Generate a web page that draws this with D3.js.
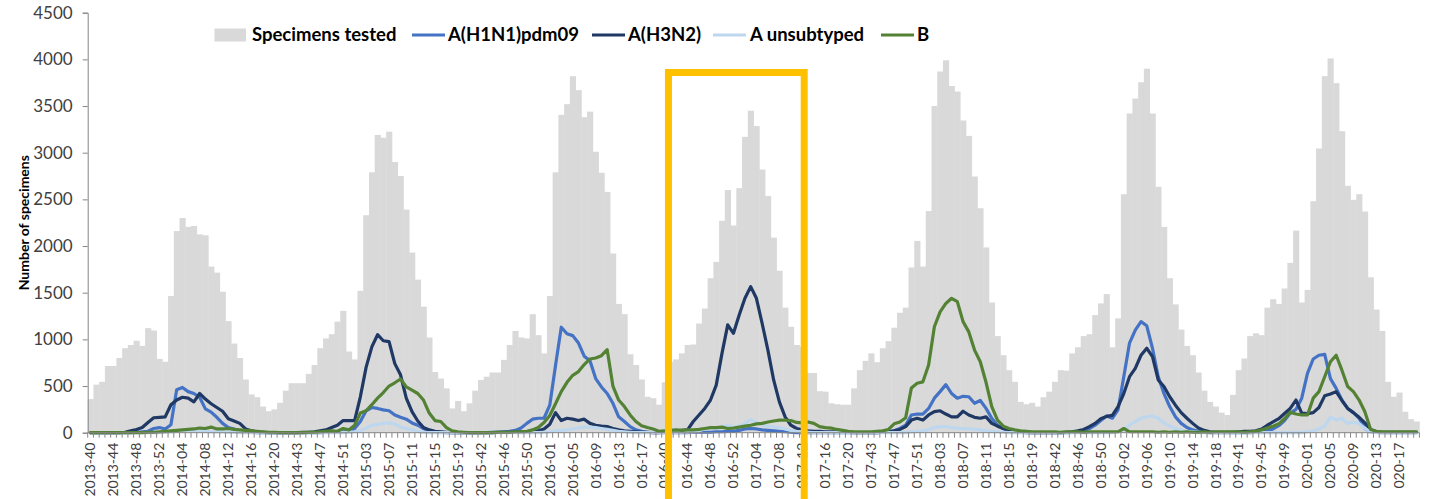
<!DOCTYPE html>
<html><head><meta charset="utf-8">
<script src="https://cdn.jsdelivr.net/npm/d3@7"></script>
<style>
body{margin:0;background:#fff}
svg{display:block}
text{font-family:Lato,"Open Sans","Liberation Sans",sans-serif}
</style>
</head><body>
<svg id="chart" width="1433" height="499"></svg>
<script>
// ---- categories: influenza seasons, week 40 .. week 20 of next year ----
const seasonStarts = [2013, 2014, 2015, 2016, 2017, 2018, 2019];
const lastWeekOfStartYear = [52, 52, 53, 52, 52, 52, 52];
const categories = [];
seasonStarts.forEach((yr, k) => {
  for (let w = 40; w <= lastWeekOfStartYear[k]; w++) categories.push(yr + "-" + String(w).padStart(2, "0"));
  for (let w = 1; w <= 20; w++) categories.push((yr + 1) + "-" + String(w).padStart(2, "0"));
});

// tick labels as printed (every 4th week)
const tickLabels = ["2013-40","2013-44","2013-48","2013-52","2014-04","2014-08","2014-12","2014-16","2014-20",
 "2014-43","2014-47","2014-51","2015-03","2015-07","2015-11","2015-15","2015-19",
 "2015-42","2015-46","2015-50","2016-01","2016-05","016-09","016-13","016-17",
 "016-40","016-44","016-48","016-52","017-04","017-08","017-12","017-16","017-20",
 "017-43","017-47","017-51","018-03","018-07","018-11","018-15","018-19",
 "018-42","018-46","018-50","019-02","019-06","019-10","019-14","019-18",
 "019-41","019-45","019-49","020-01","020-05","020-09","020-13","020-17"];

const yTicks = [0,500,1000,1500,2000,2500,3000,3500,4000,4500];

// ---- series ----
const specimens = [
 360,515,545,715,715,800,905,940,985,930,1120,1095,790,760,1465,2160,2300,2205,2215,2125,2115,1780,1715,1510,1195,955,800,570,410,380,280,230,250,
 320,450,530,530,530,630,725,905,1010,1055,1190,1305,870,785,1520,2330,2790,3190,3160,3225,2900,2750,2390,1930,1640,1350,1020,650,580,475,260,340,230,
 315,450,565,600,645,645,780,940,1090,1020,1010,1270,1045,850,1465,2790,3405,3520,3820,3670,3380,3440,3010,2785,2580,1920,1380,1270,840,725,570,385,370,300,
 540,760,785,850,940,945,1170,1330,1655,1830,2270,2600,2220,2620,3170,3450,3285,2820,2535,2090,1735,1340,1135,940,920,640,640,445,440,315,305,300,300,
 475,670,770,850,755,905,980,1125,1285,1340,1770,2055,1780,2375,3500,3870,3990,3715,3655,3345,3180,2745,2405,1985,1395,1035,830,670,545,330,305,320,280,
 380,440,545,670,665,850,915,1035,1055,1260,1385,1485,915,1225,2555,3420,3580,3755,3900,3420,2635,2205,1655,1375,1105,930,830,645,450,330,280,215,190,
 405,670,795,1035,1065,1045,1340,1430,1380,1545,1820,2165,1395,1530,2480,3045,3820,4010,3745,3230,2645,2495,2555,2370,1665,1320,1090,545,385,430,225,145,120
];
const h1n1 = [
 0,0,0,0,0,0,0,0,5,10,15,45,55,40,85,460,485,440,420,380,255,220,165,100,55,40,20,10,5,0,0,0,0,
 0,0,0,0,0,0,0,0,5,5,10,10,15,45,120,235,270,260,245,235,190,165,145,105,80,45,20,10,5,0,0,0,0,
 0,0,0,0,5,5,10,15,25,50,100,145,155,155,295,720,1130,1060,1040,960,820,770,580,490,420,315,170,120,65,30,15,5,0,0,
 0,0,0,0,0,5,5,5,5,10,10,15,15,25,40,45,40,30,25,20,15,10,5,0,0,0,0,0,0,0,0,0,0,
 0,0,0,0,0,5,10,20,45,80,190,200,200,260,370,440,515,420,370,390,385,315,345,260,155,80,45,30,15,10,5,0,0,
 0,0,0,0,0,5,10,20,45,80,130,180,155,245,600,960,1100,1190,1145,905,600,420,280,170,100,55,30,15,5,0,0,0,0,
 0,0,0,0,5,10,20,40,75,130,210,250,370,635,790,830,840,580,475,350,260,215,155,45,10,5,0,0,0,0,0,0,0
];
const h3n2 = [
 0,0,0,0,0,0,5,20,35,55,110,160,165,170,300,350,380,370,330,420,360,310,270,230,150,125,100,40,20,10,5,0,0,
 0,0,0,0,5,5,10,20,30,55,80,130,130,130,385,700,920,1050,985,975,740,620,370,225,125,55,30,15,10,5,0,0,0,
 0,0,0,0,0,5,5,5,5,10,10,15,20,40,90,215,130,155,145,130,145,100,80,70,65,45,30,20,15,10,5,5,0,0,
 10,15,20,25,30,120,190,260,350,510,850,1155,1065,1260,1440,1565,1440,1170,885,565,330,170,80,45,30,20,15,15,10,10,10,5,5,
 0,0,0,0,0,5,10,20,35,65,135,155,135,190,225,235,200,170,170,230,190,165,155,170,100,70,45,20,10,5,0,0,0,
 0,0,0,0,5,10,20,35,65,100,150,175,185,280,420,600,690,830,905,815,565,495,385,295,215,155,100,50,25,10,5,5,5,
 5,10,15,15,20,40,80,115,150,205,260,350,210,205,215,270,395,415,440,345,260,215,165,105,35,10,5,5,5,5,5,5,5
];
const unsubtyped = [
 0,0,0,0,0,0,0,0,0,0,0,0,0,5,10,15,20,20,20,15,15,10,10,10,5,5,0,0,0,0,0,0,0,
 0,0,0,0,0,0,0,0,0,0,0,0,5,10,20,50,80,90,100,105,95,60,45,30,15,5,0,0,0,0,0,0,0,
 0,0,0,0,0,0,0,0,0,0,0,0,0,5,10,20,25,30,40,50,60,60,55,45,35,25,15,10,5,0,0,0,0,0,
 0,0,0,5,5,10,20,40,50,45,60,80,60,70,100,140,110,80,70,60,55,40,25,15,10,5,0,0,0,0,0,0,0,
 0,0,0,0,0,0,0,0,0,0,10,15,20,35,55,65,65,55,50,45,40,35,30,20,15,10,5,0,0,0,0,0,0,
 0,0,0,0,0,0,0,0,0,0,0,0,0,10,30,80,120,155,170,180,155,105,70,45,30,15,10,5,0,0,0,0,0,
 0,0,0,0,0,0,0,0,0,0,0,0,0,10,20,40,70,170,135,155,100,115,95,45,10,0,0,0,0,0,0,0,0
];
const fluB = [
 0,0,0,0,0,0,0,0,0,0,5,5,10,15,20,25,30,35,40,50,45,60,40,40,45,35,30,25,20,15,10,5,5,
 0,0,0,0,0,5,5,10,15,20,15,45,30,80,210,235,300,370,430,500,535,575,490,455,420,350,210,130,120,55,20,10,5,
 0,0,0,0,0,5,5,5,10,10,15,30,55,110,185,310,440,540,615,655,730,790,800,825,890,500,350,280,190,120,75,55,40,15,
 20,25,30,25,30,30,35,45,55,55,60,45,50,60,70,80,95,100,115,125,135,135,130,110,105,115,100,65,55,50,35,25,15,
 10,10,10,10,15,20,35,95,115,160,480,530,545,725,1135,1295,1385,1440,1405,1190,1080,885,760,540,280,135,70,45,30,20,15,10,10,
 10,10,10,5,10,10,10,5,10,10,10,10,10,10,45,10,10,10,10,10,5,10,5,10,5,10,5,5,10,5,10,10,10,
 10,10,5,10,15,30,50,70,95,150,220,200,190,190,370,440,600,760,830,670,495,440,350,225,35,15,10,10,10,10,10,10,10
];

const seriesDefs = [
  {name:"A(H1N1)pdm09", values:h1n1, color:"#4472C4"},
  {name:"A(H3N2)", values:h3n2, color:"#1F3864"},
  {name:"A unsubtyped", values:unsubtyped, color:"#BDD7EE"},
  {name:"B", values:fluB, color:"#548235"}
];

// ---- layout ----
const svg = d3.select("#chart");
const pL = 87.7, pR = 1419.4, pT = 12.7, pB = 432.7;
const x = d3.scaleBand().domain(categories).range([pL, pR]).padding(0);
const y = d3.scaleLinear().domain([0, 4500]).range([pB, pT]);
const bw = x.bandwidth();
const cx = c => x(c) + bw / 2;

// bars
svg.append("g").selectAll("rect").data(specimens).join("rect")
  .attr("x", (d, i) => x(categories[i]))
  .attr("y", d => y(d))
  .attr("width", bw + 0.4)
  .attr("height", d => y(0) - y(d))
  .attr("fill", "#D9D9D9");

// lines
const line = d3.line().x((d, i) => cx(categories[i])).y(d => y(d));
seriesDefs.forEach(s => {
  svg.append("path").datum(s.values)
    .attr("d", line)
    .attr("fill", "none")
    .attr("stroke", s.color)
    .attr("stroke-width", 3.2)
    .attr("stroke-linejoin", "round")
    .attr("stroke-linecap", "round");
});

// y axis
const yAxis = svg.append("g").attr("transform", `translate(${pL},0)`)
  .call(d3.axisLeft(y).tickValues(yTicks).tickSize(5).tickPadding(10).tickFormat(d3.format("d")));
yAxis.select(".domain").attr("stroke", "#868686");
yAxis.selectAll(".tick line").attr("stroke", "#868686");
yAxis.selectAll(".tick text").attr("font-size", 17).attr("fill", "#404040")
  .style("font-family", "Lato, 'Open Sans', sans-serif");

// x axis line + minor ticks at category boundaries
const xg = svg.append("g");
xg.append("line").attr("x1", pL).attr("x2", pR).attr("y1", pB).attr("y2", pB).attr("stroke", "#868686");
xg.selectAll("line.minor").data(categories.concat(["__end"])).join("line").attr("class", "minor")
  .attr("x1", c => c === "__end" ? pR : x(c))
  .attr("x2", c => c === "__end" ? pR : x(c))
  .attr("y1", pB).attr("y2", pB + 5)
  .attr("stroke", "#868686").attr("stroke-width", 1);

// x tick labels (every 4th category)
const labelled = categories.filter((c, i) => i % 4 === 0);
xg.selectAll("text.xl").data(labelled).join("text").attr("class", "xl")
  .attr("transform", c => `translate(${cx(c)},${pB + 10}) rotate(-90)`)
  .attr("text-anchor", "end").attr("dy", "0.35em")
  .attr("font-size", 14).attr("fill", "#404040")
  .text((c, k) => tickLabels[k]);

// y axis title
svg.append("text").attr("transform", `translate(24,${(pT + pB) / 2}) rotate(-90)`)
  .attr("text-anchor", "middle").attr("dy", "0.35em")
  .attr("font-size", 14).attr("font-weight", "bold").attr("fill", "#000")
  .text("Number of specimens");

// legend
const lg = svg.append("g").attr("font-size", 18.5).attr("font-weight", "bold").attr("fill", "#000");
const ly = 35;
lg.append("rect").attr("x", 214.5).attr("y", ly - 6.5).attr("width", 31.5).attr("height", 13).attr("fill", "#D9D9D9");
lg.append("text").attr("x", 252).attr("y", ly).attr("dy", "0.35em").text("Specimens tested");
const legendPos = [[412, 448], [592, 628], [713, 750], [881, 917]];
seriesDefs.forEach((s, k) => {
  const [lx, tx] = legendPos[k];
  lg.append("line").attr("x1", lx).attr("x2", lx + 33).attr("y1", ly).attr("y2", ly)
    .attr("stroke", s.color).attr("stroke-width", 3.2);
  lg.append("text").attr("x", tx).attr("y", ly).attr("dy", "0.35em").text(s.name);
});

// highlight box around the 2016-17 season
const bx1 = x(categories[100]) + bw + 1, bx2 = x(categories[124]) + bw - 1, by1 = y(3860);
svg.append("path")
  .attr("d", `M${bx1},${505} L${bx1},${by1} L${bx2},${by1} L${bx2},${505}`)
  .attr("fill", "none").attr("stroke", "#FFC000").attr("stroke-width", 7);
</script>
</body></html>
